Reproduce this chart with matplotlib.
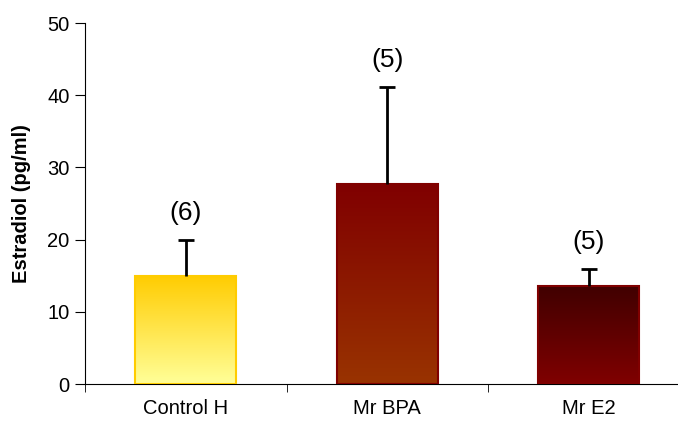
import numpy as np
import matplotlib
matplotlib.use("Agg")
import matplotlib.pyplot as plt
from matplotlib.colors import LinearSegmentedColormap

plt.rcParams['font.family'] = ['Liberation Sans', 'DejaVu Sans']

# data
groups = ["Control H", "Mr BPA", "Mr E2"]
means = [15.0, 27.7, 13.6]
errors = [5.0, 13.5, 2.3]
n_labels = ["(6)", "(5)", "(5)"]

# gradient colours (top, bottom) and edge colours
top_colors = ["#FFCC00", "#800000", "#400000"]
bottom_colors = ["#FFFF99", "#993300", "#800000"]
edge_colors = ["#FFCC00", "#800000", "#800000"]

fig = plt.figure(figsize=(6.78, 4.24), dpi=100)
ax = fig.add_axes([85 / 678, 40 / 424, 604.5 / 678, 361 / 424])

x = np.arange(len(groups))
bars = ax.bar(x, means, width=0.5, color="none", edgecolor=edge_colors,
              linewidth=1.5, zorder=3)

# gradient fill inside each bar
for bar, c_top, c_bot in zip(bars, top_colors, bottom_colors):
    cmap = LinearSegmentedColormap.from_list("g", [c_bot, c_top])
    x0, y0 = bar.get_x(), bar.get_y()
    w, h = bar.get_width(), bar.get_height()
    grad = np.linspace(0, 1, 256).reshape(-1, 1)
    im = ax.imshow(grad, cmap=cmap, aspect="auto", origin="lower",
                   extent=[x0, x0 + w, y0, y0 + h], zorder=2)
    im.set_clip_path(bar)

# upper error bars only
tops = np.array(means) + np.array(errors)
ax.vlines(x, means, tops, color="black", linewidth=2, zorder=4)
ax.hlines(tops, x - 0.04, x + 0.04, color="black", linewidth=2, zorder=4)

for xi, t, lab in zip(x, tops, n_labels):
    ax.text(xi, t + 3.7, lab, ha="center", va="center", fontsize=19)

ax.set_xlim(-0.5, 2.5)
ax.set_ylim(0, 50)
ax.set_yticks(range(0, 51, 10))
ax.set_xticks(x)
ax.set_xticklabels(groups, fontsize=14.5)
ax.set_xticks([-0.5, 0.5, 1.5, 2.5], minor=True)
ax.tick_params(axis="x", which="major", length=0, pad=11)
ax.tick_params(axis="x", which="minor", length=6, direction="out")
ax.tick_params(axis="y", labelsize=14.5, length=7, direction="out", pad=4)

ax.spines["top"].set_visible(False)
ax.spines["right"].set_visible(False)
ax.set_ylabel("Estradiol (pg/ml)", fontsize=14.5, fontweight="bold", labelpad=12)

fig.savefig("out.png", dpi=100)
